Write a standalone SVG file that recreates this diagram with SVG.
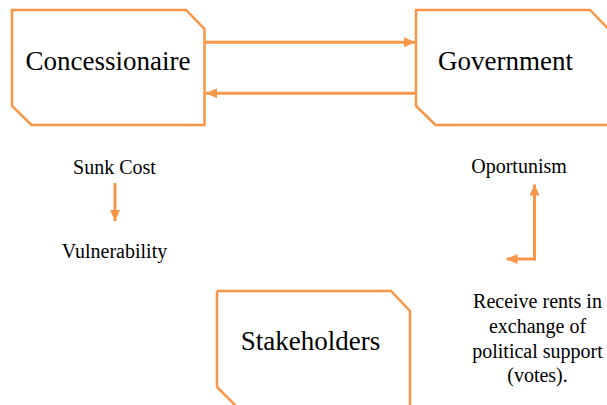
<svg xmlns="http://www.w3.org/2000/svg" width="607" height="405" viewBox="0 0 607 405">
<style>
.box{fill:#ffffff;stroke:#F79646;stroke-width:2.5;stroke-linejoin:miter}
.big{font-family:'Liberation Serif','Times New Roman',serif;font-size:27px;fill:#000;text-anchor:middle}
.small{font-family:'Liberation Serif','Times New Roman',serif;font-size:20px;fill:#000;text-anchor:middle}
.conn{fill:none;stroke:#F79646;stroke-width:3}
</style>
<defs>
<marker id="ah" markerUnits="userSpaceOnUse" markerWidth="12" markerHeight="12" viewBox="0 0 12 12" refX="11" refY="6" orient="auto">
<path d="M0,1 L11,6 L0,11 Z" fill="#F79646"/>
</marker>
</defs>
<rect width="607" height="405" fill="#ffffff"/>
<g id="concessionaire">
<path class="box" d="M12,10 H186 L204.5,29 V125 H31.5 L12,106 Z"/>
<text class="big" x="108" y="70">Concessionaire</text>
</g>
<g id="government">
<path class="box" d="M416,10 H590 L608.5,29 V125 H435.5 L416,106 Z"/>
<text class="big" x="505.5" y="70">Government</text>
</g>
<g id="stakeholders">
<path class="box" d="M217,291 H391 L410,311 V410 M217,291 V387 L236,406"/>
<text class="big" x="310.5" y="350">Stakeholders</text>
</g>
<g id="sunk-cost"><text class="small" x="114.5" y="174">Sunk Cost</text></g>
<g id="vulnerability"><text class="small" x="114.5" y="258">Vulnerability</text></g>
<g id="oportunism"><text class="small" x="519" y="173">Oportunism</text></g>
<g id="rents">
<text class="small" x="537.5" y="308">Receive rents in</text>
<text class="small" x="537.5" y="333">exchange of</text>
<text class="small" x="537.5" y="358">political support</text>
<text class="small" x="537.5" y="382">(votes).</text>
</g>
<g id="connectors">
<line class="conn" x1="205" y1="42.3" x2="415" y2="42.3" marker-end="url(#ah)"/>
<line class="conn" x1="416" y1="93.3" x2="206" y2="93.3" marker-end="url(#ah)"/>
<line class="conn" x1="115" y1="183" x2="115" y2="221" marker-end="url(#ah)"/>
<line class="conn" x1="534.5" y1="260.5" x2="534.5" y2="184.5" marker-end="url(#ah)"/>
<line class="conn" x1="536" y1="259" x2="506.5" y2="259" marker-end="url(#ah)"/>
</g>
</svg>
